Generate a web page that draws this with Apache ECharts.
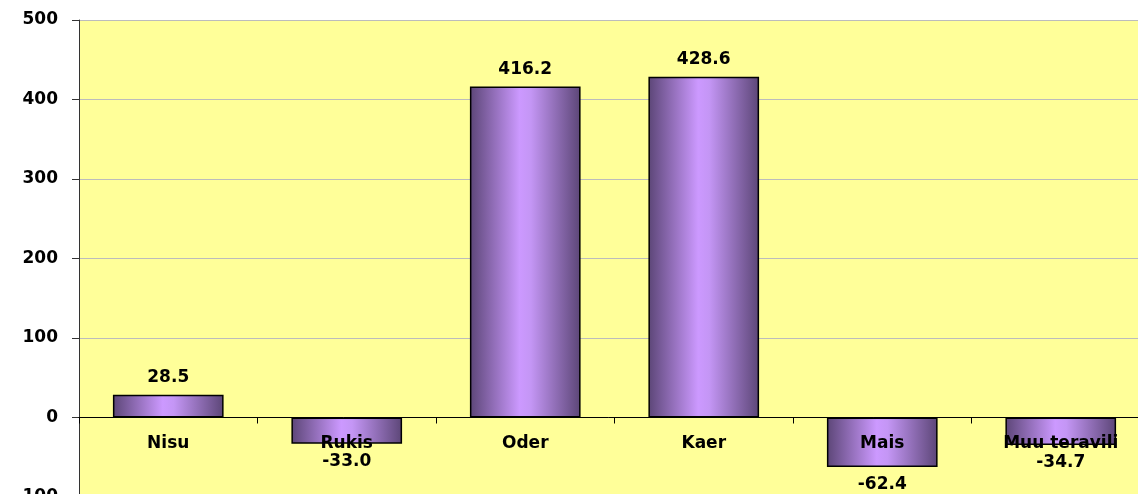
<!DOCTYPE html>
<html>
<head>
    <meta charset="utf-8">
    <title>ECharts</title>
    <script src="https://cdn.jsdelivr.net/npm/echarts@6/dist/echarts.min.js"></script>
    <style>body{margin:0;background:#fff;}</style>
</head>
<body>
<div id="main" style="width: 1138px;height:494px;"></div>
<script type="text/javascript">
    var categories = ['Nisu', 'Rukis', 'Oder', 'Kaer', 'Mais', 'Muu teravili'];
    var values = [28.5, -33.0, 416.2, 428.6, -62.4, -34.7];

    var myChart = echarts.init(document.getElementById('main'));

    var barColor = new echarts.graphic.LinearGradient(0, 0, 1, 0, [
        {offset: 0, color: '#5c4677'},
        {offset: 0.45, color: '#cc99ff'},
        {offset: 0.55, color: '#c496f5'},
        {offset: 1, color: '#5c4677'}
    ]);

    var seriesData = values.map(function (v) {
        return {
            value: v,
            label: {position: v < 0 ? 'bottom' : 'top'}
        };
    });

    // grid: top 20, height 477 -> zero line sits 1/6 of height above the bottom
    var gridTop = 20, gridHeight = 477;
    var zeroOffset = gridHeight * 100 / 600;

    var textFont = 'DejaVu Sans';

    var option = {
        backgroundColor: '#ffffff',
        animation: false,
        grid: {
            left: 79,
            top: gridTop,
            width: 1071,
            height: gridHeight,
            outerBoundsMode: 'none',
            containLabel: false,
            show: true,
            backgroundColor: '#ffff99',
            borderWidth: 0
        },
        xAxis: {
            type: 'category',
            data: categories,
            position: 'bottom',
            offset: -zeroOffset,
            z: 5,
            axisLine: {onZero: false, lineStyle: {color: '#000', width: 1}},
            axisTick: {show: true, length: 6, inside: false, lineStyle: {color: '#000'}},
            axisLabel: {
                color: '#000',
                fontWeight: 'bold',
                fontSize: 17,
                fontFamily: textFont,
                margin: 18,
                interval: 0,
                hideOverlap: false
            }
        },
        yAxis: {
            type: 'value',
            min: -100,
            max: 500,
            interval: 100,
            axisLine: {show: true, lineStyle: {color: '#333', width: 1}},
            axisTick: {show: true, length: 7, lineStyle: {color: '#333'}},
            axisLabel: {
                color: '#000',
                fontWeight: 'bold',
                fontSize: 17,
                fontFamily: textFont,
                margin: 21
            },
            splitLine: {lineStyle: {color: '#bcbcbc', width: 1}}
        },
        series: [{
            type: 'bar',
            data: seriesData,
            barCategoryGap: '38%',
            itemStyle: {
                color: barColor,
                borderColor: '#000',
                borderWidth: 1.5
            },
            label: {
                show: true,
                color: '#000',
                fontWeight: 'bold',
                fontSize: 17,
                fontFamily: textFont,
                distance: 9,
                formatter: function (p) { return p.value.toFixed(1); }
            }
        }]
    };
    myChart.setOption(option);
</script>
</body>
</html>
